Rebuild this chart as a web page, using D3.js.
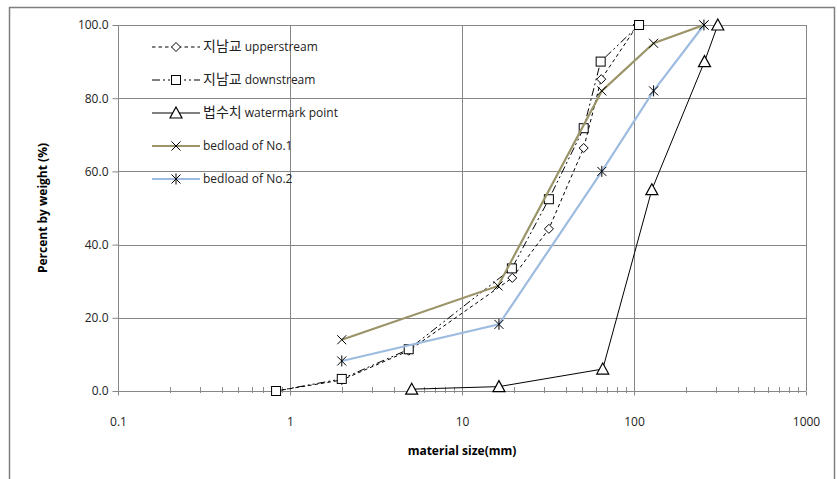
<!DOCTYPE html>
<html>
<head>
<meta charset="utf-8">
<script src="https://cdn.jsdelivr.net/npm/d3@7"></script>
<style>
  body { margin: 0; background: #fff; }
  text { font-family: "Open Sans", "Noto Sans CJK KR", sans-serif; }
</style>
</head>
<body>
<script>
width = 837
height = 479
margin = ({top: 25, right: 31, bottom: 88, left: 118})

// sieve data (size mm, percent passing)
upperSize = [0.83, 2.0, 4.9, 19.6, 32, 51, 64.5, 105]
upperPct = [0, 3.0, 11.0, 30.9, 44.3, 66.4, 85.2, 100]
downSize = [0.83, 2.0, 4.9, 19.5, 32, 51, 64, 107]
downPct = [0, 3.3, 11.4, 33.5, 52.4, 71.8, 90, 100]
markSize = [5.1, 16.4, 65.8, 127, 257, 307]
markPct = [0.5, 1.2, 6.0, 55, 90, 100]
bed1Size = [2.0, 16.2, 65, 130, 255]
bed1Pct = [14, 28.7, 82, 95, 100]
bed2Size = [2.0, 16.4, 65, 130, 255]
bed2Pct = [8.2, 18.2, 60, 82, 100]

xTicks = [0.1, 1, 10, 100, 1000]
yTicks = [0, 20, 40, 60, 80, 100]

series = [
  {name: "지남교", sub: " upperstream", xs: upperSize, ys: upperPct, color: "#000", w: 1, dash: "3.5,3", mark: "diamond"},
  {name: "지남교", sub: " downstream", xs: downSize, ys: downPct, color: "#000", w: 1, dash: "8,3,2,3,2,3", mark: "square"},
  {name: "법수치", sub: " watermark point", xs: markSize, ys: markPct, color: "#000", w: 1, dash: null, mark: "triangle"},
  {name: "", sub: "bedload of No.1", xs: bed1Size, ys: bed1Pct, color: "#9a9468", w: 2.2, dash: null, mark: "x"},
  {name: "", sub: "bedload of No.2", xs: bed2Size, ys: bed2Pct, color: "#9dbce0", w: 2.2, dash: null, mark: "star"}
]

x = d3.scaleLog()
  .domain([0.1, 1000])
  .range([margin.left, width - margin.right])

y = d3.scaleLinear()
  .domain([0, 100])
  .range([height - margin.bottom, margin.top])

const svg = d3.select("body").append("svg")
  .attr("width", width)
  .attr("height", height)

// outer chart frame
svg.append("rect")
  .attr("x", 9.5).attr("y", 7.5)
  .attr("width", 825).attr("height", 480)
  .attr("fill", "none").attr("stroke", "#7f7f7f").attr("stroke-width", 1.5)

// gridlines
svg.append("g")
  .selectAll("line")
  .data(yTicks.slice(1))
  .join("line")
    .attr("x1", margin.left).attr("x2", width - margin.right)
    .attr("y1", d => Math.round(y(d)) + 0.5).attr("y2", d => Math.round(y(d)) + 0.5)
    .attr("stroke", "#868686")

svg.append("g")
  .selectAll("line")
  .data(xTicks.slice(1))
  .join("line")
    .attr("x1", d => Math.round(x(d)) + 0.5).attr("x2", d => Math.round(x(d)) + 0.5)
    .attr("y1", margin.top).attr("y2", height - margin.bottom)
    .attr("stroke", "#868686")

// minor ticks on x axis
minor = []
for (let p = -1; p < 3; p++) for (let k = 2; k < 10; k++) minor.push(k * Math.pow(10, p))

svg.append("g")
  .selectAll("line")
  .data(minor)
  .join("line")
    .attr("x1", d => Math.round(x(d)) + 0.5).attr("x2", d => Math.round(x(d)) + 0.5)
    .attr("y1", y(0) - 4).attr("y2", y(0) + 2)
    .attr("stroke", "#8c8c8c")

xAxis = g => g
  .attr("transform", `translate(0,${Math.round(y(0)) + 0.5})`)
  .call(d3.axisBottom(x).tickValues(xTicks).tickFormat(d => d).tickSize(4).tickPadding(22))
  .call(g => g.selectAll("line, path").attr("stroke", "#868686"))
  .call(g => g.select(".domain").attr("d", `M${margin.left},0H${width - margin.right}`))
  .call(g => g.selectAll("text").attr("font-size", 12).attr("fill", "#222"))

yAxis = g => g
  .attr("transform", `translate(${margin.left + 0.5},0)`)
  .call(d3.axisLeft(y).tickValues(yTicks).tickFormat(d3.format(".1f")).tickSize(6).tickPadding(4))
  .call(g => g.selectAll("line, path").attr("stroke", "#868686"))
  .call(g => g.select(".domain").attr("d", `M0,${margin.top}V${height - margin.bottom}`))
  .call(g => g.selectAll("text").attr("font-size", 12).attr("fill", "#222"))

svg.append("g").call(xAxis)
svg.append("g").call(yAxis)

// right border of plot
svg.append("line")
  .attr("x1", width - margin.right + 0.5).attr("x2", width - margin.right + 0.5)
  .attr("y1", margin.top).attr("y2", height - margin.bottom)
  .attr("stroke", "#868686")

// axis titles
svg.append("text")
  .attr("x", (margin.left + width - margin.right) / 2)
  .attr("y", 455)
  .attr("text-anchor", "middle")
  .attr("font-size", 12).attr("font-weight", "bold")
  .text("material size(mm)")

svg.append("text")
  .attr("transform", `translate(47,${(margin.top + height - margin.bottom) / 2}) rotate(-90)`)
  .attr("text-anchor", "middle")
  .attr("font-size", 12).attr("font-weight", "bold")
  .text("Percent by weight (%)")

function drawMark(g, type, cx, cy) {
  if (type === "diamond") {
    g.append("path").attr("d", `M${cx},${cy - 4.5}L${cx + 4.5},${cy}L${cx},${cy + 4.5}L${cx - 4.5},${cy}Z`)
      .attr("fill", "#fff").attr("stroke", "#000")
  } else if (type === "square") {
    g.append("rect").attr("x", cx - 4.5).attr("y", cy - 4.5).attr("width", 9).attr("height", 9)
      .attr("fill", "#fff").attr("stroke", "#000")
  } else if (type === "triangle") {
    g.append("path").attr("d", `M${cx},${cy - 6}L${cx + 6},${cy + 5}L${cx - 6},${cy + 5}Z`)
      .attr("fill", "#fff").attr("stroke", "#000").attr("stroke-width", 1.2)
  } else if (type === "x") {
    g.append("path").attr("d", `M${cx - 4.5},${cy - 4.5}L${cx + 4.5},${cy + 4.5}M${cx - 4.5},${cy + 4.5}L${cx + 4.5},${cy - 4.5}`)
      .attr("stroke", "#000").attr("stroke-width", 1)
  } else {
    g.append("path").attr("d", `M${cx - 4.5},${cy - 4.5}L${cx + 4.5},${cy + 4.5}M${cx - 4.5},${cy + 4.5}L${cx + 4.5},${cy - 4.5}M${cx},${cy - 5.5}V${cy + 5.5}`)
      .attr("stroke", "#000").attr("stroke-width", 1)
  }
}

line = d3.line().x(d => x(d[0])).y(d => y(d[1]))

// draw lines (later series on top)
series.forEach(s => {
  const pts = s.xs.map((v, i) => [v, s.ys[i]])
  svg.append("path")
    .datum(pts)
    .attr("d", line)
    .attr("fill", "none")
    .attr("stroke", s.color)
    .attr("stroke-width", s.w)
    .attr("stroke-dasharray", s.dash)
  const g = svg.append("g")
  pts.forEach(p => drawMark(g, s.mark, x(p[0]), y(p[1])))
})

// legend
legend = svg.append("g")
series.forEach((s, i) => {
  const ly = 47 + i * 33
  legend.append("line")
    .attr("x1", 152).attr("x2", 200).attr("y1", ly).attr("y2", ly)
    .attr("stroke", s.color).attr("stroke-width", s.w)
    .attr("stroke-dasharray", s.dash)
  drawMark(legend, s.mark, 176, ly)
  const t = legend.append("text")
    .attr("x", 203).attr("y", ly).attr("dy", "0.35em")
    .attr("font-size", 12).attr("fill", "#222")
  if (s.name) t.append("tspan").attr("font-family", "Noto Sans CJK KR").attr("font-size", 14).text(s.name)
  t.append("tspan").text(s.sub)
})
</script>
</body>
</html>
